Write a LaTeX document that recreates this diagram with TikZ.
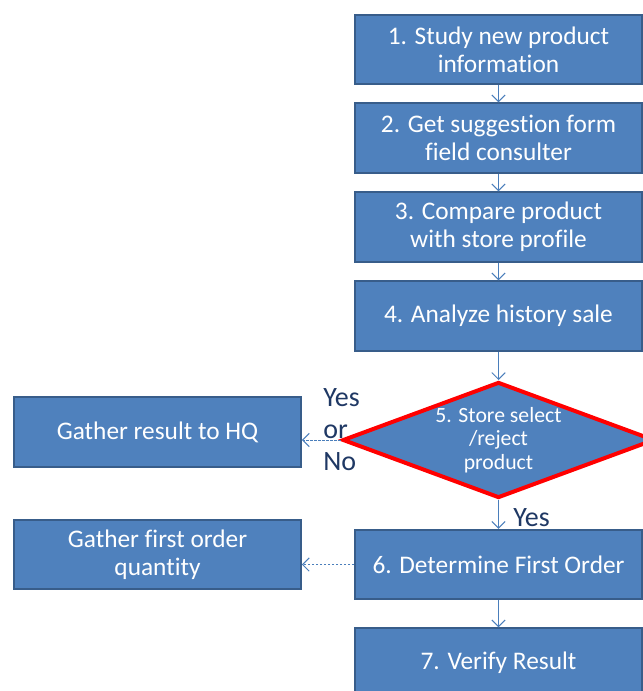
\documentclass[tikz,border=0pt]{standalone}
\usepackage{fontspec}
\setmainfont{Carlito}[Ligatures=NoCommon]
\usepackage{xcolor}
\usetikzlibrary{shapes.geometric,arrows.meta}
\definecolor{boxfill}{HTML}{4F81BD}
\definecolor{boxline}{HTML}{385D8A}
\definecolor{flowline}{HTML}{4A7EBB}
\definecolor{labtext}{HTML}{1F3864}

\begin{document}
\begin{tikzpicture}[x=0.75pt,y=-0.75pt,
        stepbox/.style={draw=boxline,line width=1.5pt,fill=boxfill,text=white,
            minimum width=215pt,minimum height=52pt,inner sep=0pt,align=center,
            font=\fontsize{19}{21}\selectfont},
        choice/.style={diamond,draw=red,line width=3pt,fill=boxfill,
            minimum width=234pt,minimum height=87pt,inner sep=0pt},
        choicetext/.style={text=white,inner sep=0pt,align=center,
            font=\fontsize{16.3}{17.8}\selectfont},
        flow/.style={draw=flowline,line width=0.75pt,-{Straight Barb[length=5pt,width=10pt]}},
        side/.style={flow,dash pattern=on 2pt off 1pt},
        answer/.style={text=labtext,inner sep=0pt,align=left,font=\fontsize{21}{24}\selectfont}]
        \useasboundingbox (0,0) rectangle (642,691);
        \node [stepbox] (s1) at (498.5,49.5) {1. Study new product\\information};
        \node [stepbox] (s2) at (498.5,138) {2. Get suggestion form\\field consulter};
        \node [stepbox] (s3) at (498.5,227) {3. Compare product\\with store profile};
        \node [stepbox] (s4) at (498.5,316) {4. Analyze history sale};
        \node [choice,label={[choicetext]center:5. Store select\\/reject\\product}] (s5) at (498.5,440) {};
        \node [stepbox] (s6) at (498.5,564.5) {6. Determine First Order};
        \node [stepbox] (s7) at (498.5,663) {7. Verify Result};
        \node [stepbox] (hq) at (157.5,432) {Gather result to HQ};
        \node [stepbox] (qty) at (157.5,554.5) {Gather first order\\quantity};
        \draw [flow] (s1) -- (s2);
        \draw [flow] (s2) -- (s3);
        \draw [flow] (s3) -- (s4);
        \draw [flow] (s4) -- (s5);
        \draw [flow] (s5) -- (s6);
        \draw [flow] (s6) -- (s7);
        \draw [side] (s5.west) -- (s5.west -| hq.east);
        \draw [side] (s6.west) -- (s6.west -| qty.east);
        \node [answer,anchor=west] (yn) at (323,430) {Yes\\or\\No};
        \node [answer,anchor=west] (yes) at (513,518) {Yes};
\end{tikzpicture}
\end{document}
